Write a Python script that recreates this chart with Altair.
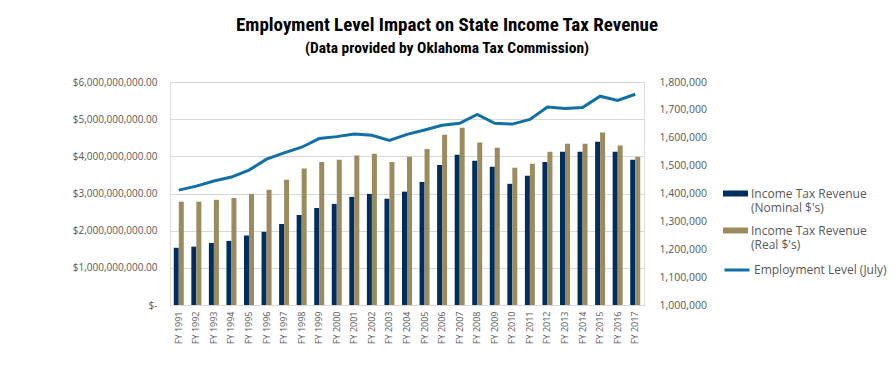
import altair as alt
import pandas as pd

years = ["FY 1991", "FY 1992", "FY 1993", "FY 1994", "FY 1995", "FY 1996", "FY 1997",
         "FY 1998", "FY 1999", "FY 2000", "FY 2001", "FY 2002", "FY 2003", "FY 2004",
         "FY 2005", "FY 2006", "FY 2007", "FY 2008", "FY 2009", "FY 2010", "FY 2011",
         "FY 2012", "FY 2013", "FY 2014", "FY 2015", "FY 2016", "FY 2017"]

nominal_bn = [1.54, 1.57, 1.67, 1.725, 1.87, 1.97, 2.18, 2.42, 2.61, 2.72, 2.91, 2.99, 2.86,
              3.05, 3.31, 3.77, 4.04, 3.88, 3.72, 3.26, 3.48, 3.85, 4.12, 4.12, 4.39, 4.12, 3.91]
real_bn = [2.78, 2.78, 2.83, 2.88, 2.99, 3.10, 3.37, 3.67, 3.85, 3.91, 4.02, 4.07, 3.85,
           3.99, 4.20, 4.58, 4.77, 4.37, 4.23, 3.69, 3.80, 4.12, 4.34, 4.34, 4.64, 4.29, 3.99]
employment = [1412000, 1426500, 1445000, 1459000, 1484000, 1523000, 1546000, 1566000,
              1597000, 1604000, 1613000, 1609000, 1590000, 1612000, 1628000, 1645000,
              1652000, 1684000, 1652000, 1649000, 1665500, 1710000, 1705000, 1708500,
              1749000, 1733500, 1756000]

series_names = ["Income Tax Revenue (Nominal $'s)", "Income Tax Revenue (Real $'s)"]
line_name = "Employment Level (July)"
bar_colors = ["#002F5F", "#9C8B5E"]
line_color = "#1170A8"

rows = []
for i, y in enumerate(years):
    rows.append({"year": y, "series": series_names[0], "value": nominal_bn[i] * 1e9})
    rows.append({"year": y, "series": series_names[1], "value": real_bn[i] * 1e9})
bars_df = pd.DataFrame(rows)
line_df = pd.DataFrame({"year": years, "emp": employment, "series": [line_name] * len(years)})

label_font = "Open Sans"
title_font = "Roboto Condensed, DejaVu Sans Condensed, Liberation Sans Narrow, Noto Sans, sans-serif"
text_gray = "#595959"

x_enc = alt.X("year:N", sort=years,
              scale=alt.Scale(paddingInner=0.43, paddingOuter=0.215),
              axis=alt.Axis(title=None, labelAngle=-90, labelFontSize=9, labelFont=label_font,
                            labelColor=text_gray, ticks=False, domainColor="#d9d9d9",
                            labelPadding=6))

bars = alt.Chart(bars_df).mark_bar().encode(
    x=x_enc,
    xOffset=alt.XOffset("series:N", sort=series_names, scale=alt.Scale(paddingInner=0, paddingOuter=0)),
    y=alt.Y("value:Q", scale=alt.Scale(domain=[0, 6e9], nice=False),
            axis=alt.Axis(title=None, values=[0, 1e9, 2e9, 3e9, 4e9, 5e9, 6e9],
                          labelExpr="datum.value == 0 ? '$-' : '$' + format(datum.value, ',.2f')",
                          labelFont=label_font, labelFontSize=10, labelColor=text_gray,
                          domain=False, ticks=False, grid=True, gridColor="#d9d9d9",
                          labelPadding=13)),
    color=alt.Color("series:N", sort=series_names,
                    scale=alt.Scale(domain=series_names, range=bar_colors),
                    legend=alt.Legend(title=None, orient="none", legendX=553, legendY=99,
                                      symbolType="M-1,-0.24H1V0.24H-1Z", symbolSize=625,
                                      symbolStrokeWidth=0, labelFont=label_font,
                                      labelFontSize=12, labelColor=text_gray,
                                      labelBaseline="middle", labelOffset=3, padding=0,
                                      rowPadding=4,
                                      labelExpr="['Income Tax Revenue', replace(datum.label, 'Income Tax Revenue ', '')]")),
)

line = alt.Chart(line_df).mark_line(strokeWidth=3).encode(
    x=alt.X("year:N", sort=years),
    y=alt.Y("emp:Q", scale=alt.Scale(domain=[1000000, 1800000], nice=False),
            axis=alt.Axis(title=None, orient="right",
                          values=[1000000, 1100000, 1200000, 1300000, 1400000, 1500000,
                                  1600000, 1700000, 1800000],
                          format=",d", labelFont=label_font, labelFontSize=10.5,
                          labelColor=text_gray, domain=False, ticks=False, grid=False,
                          labelPadding=15)),
    stroke=alt.Stroke("series:N", scale=alt.Scale(domain=[line_name], range=[line_color]),
                      legend=alt.Legend(title=None, orient="none", legendX=553, legendY=174,
                                        symbolType="stroke", symbolSize=625,
                                        symbolStrokeWidth=3, labelFont=label_font,
                                        labelFontSize=12, labelColor=text_gray,
                                        labelBaseline="middle", labelOffset=3, padding=0)),
)

chart = alt.layer(bars, line).resolve_scale(y="independent").properties(
    width=474, height=223,
    autosize=alt.AutoSizeParams(type="none"),
    padding={"left": 162, "top": 74, "right": 243, "bottom": 56},
    title=alt.TitleParams(
        text="Employment Level Impact on State Income Tax Revenue",
        subtitle="(Data provided by Oklahoma Tax Commission)",
        font=title_font, fontSize=19, fontWeight="bold", color="black",
        subtitleFont=title_font, subtitleFontSize=15.5, subtitleFontWeight="bold",
        subtitleColor="black",
        anchor="middle", frame="group", dx=40, offset=21, subtitlePadding=6),
).configure_view(stroke=None).configure(background="white")

chart.save("out.html", embed_options={"renderer": "svg", "actions": False})
